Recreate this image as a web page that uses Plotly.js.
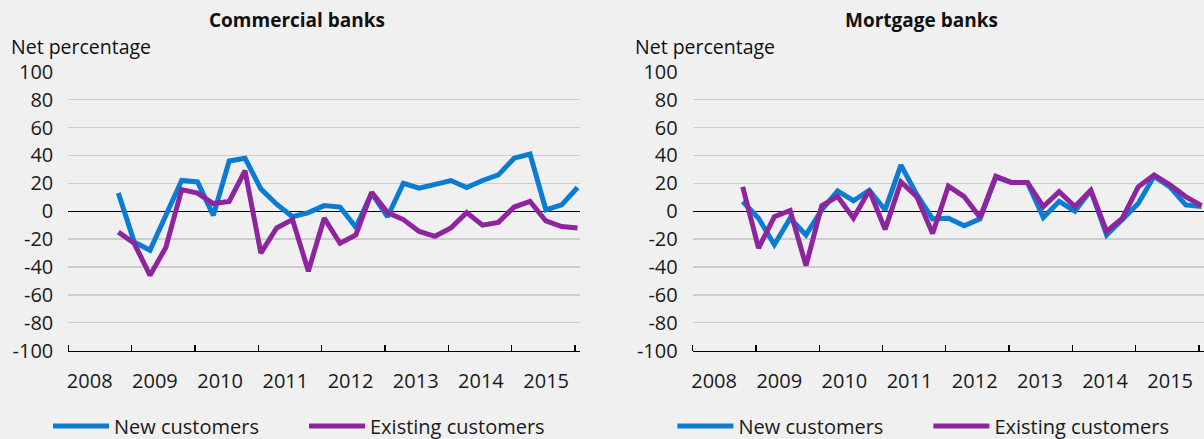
<!DOCTYPE html>
<html><head><meta charset="utf-8">
<script src="https://cdn.plot.ly/plotly-3.0.1.min.js"></script>
<style>html,body{margin:0;padding:0;background:#f0f0f0;} #chart{width:1204px;height:439px;}</style>
</head><body><div id="chart"></div>
<script>
// Quarterly survey, 2008Q4 - 2016Q1
const quarters = ["2008Q4","2009Q1","2009Q2","2009Q3","2009Q4","2010Q1","2010Q2","2010Q3","2010Q4",
  "2011Q1","2011Q2","2011Q3","2011Q4","2012Q1","2012Q2","2012Q3","2012Q4","2013Q1","2013Q2","2013Q3","2013Q4",
  "2014Q1","2014Q2","2014Q3","2014Q4","2015Q1","2015Q2","2015Q3","2015Q4","2016Q1"];
const years = ["2008","2009","2010","2011","2012","2013","2014","2015"];
const yTickValues = [-100,-80,-60,-40,-20,0,20,40,60,80,100];
const yTickLabels = ["-100","-80","-60","-40","-20","0","20","40","60","80","100"];
const commercialNew = [13,-22,-28,-2,22,21,-3,36,38,16,5,-4,-1,4,3,-11.5,13,-4,20,16.5,19,22,17,22,26,38,41,1,4.5,17];
const commercialExisting = [-15,-23,-46,-26,15.5,13,5.5,7,29,-30,-12,-6,-43,-5,-23,-17,13.5,-1,-6,-14.5,-18,-12,-1,-10,-8,3,7,-7,-11,-12];
const mortgageNew = [7,-5,-24,-5,-17,1,14.5,7.5,15,1,33,12,-5.5,-5,-10.5,-5.5,24.5,20.5,20.5,-4.5,7,0,15,-17,-6,5.5,25,17.5,4.5,3.3];
const mortgageExisting = [17.5,-26.5,-4,0.5,-39,4,10.5,-5,15,-13,21,10.5,-16,18,10.5,-4.5,25,20.5,20.5,3.3,14,3.3,15,-14.5,-5,17.5,26,19,10.5,4];
const seriesNames = ["New customers","Existing customers"];
const panelTitles = ["Commercial banks","Mortgage banks"];
const yTitle = "Net percentage";

const BLUE = "#0a7dd2", PURPLE = "#8e249e";
const FONT = "Open Sans";
const W = 1204, H = 439;

// quarter -> decimal year position (survey placed early in the quarter)
const qx = quarters.map(q => +q.slice(0,4) + (+q.slice(5)-1)/4 + 0.04);
const yearTicks = years.map(Number).concat([+years[years.length-1]+1]);
const labelPos = years.map((y,i) => +y + 0.338 + 0.0295*i);

function mk(y, name, color, xa, ya, leg) {
  return {x: qx, y: y, name: name, type: "scatter", mode: "lines",
    line: {color: color, width: 5}, xaxis: xa, yaxis: ya, legend: leg, showlegend: true,
    hoverinfo: "x+y"};
}
const traces = [
  mk(commercialNew, seriesNames[0], BLUE, "x", "y", "legend"),
  mk(commercialExisting, seriesNames[1], PURPLE, "x", "y", "legend"),
  mk(mortgageNew, seriesNames[0], BLUE, "x2", "y2", "legend2"),
  mk(mortgageExisting, seriesNames[1], PURPLE, "x2", "y2", "legend2")
];

const tickfont = {family: FONT, size: 20, color: "#1a1a1a"};
function xax(dom, anchor) {
  return {domain: dom, anchor: anchor, range: [2008, 2016.079], tickmode: "array",
    tickvals: labelPos, ticktext: years, ticks: "", showline: true, linecolor: "#000", linewidth: 1.3,
    showgrid: false, zeroline: false, tickfont: tickfont, ticklabelstandoff: 12, fixedrange: true,
    minor: {tickmode: "array", tickvals: yearTicks, ticks: "inside", ticklen: 6, tickwidth: 1.3,
            tickcolor: "#000", showgrid: false}};
}
function yax(anchor) {
  return {domain: [88.3/H, (H-71.7)/H], anchor: anchor, range: [-100,100], tickmode: "array",
    tickvals: yTickValues, ticktext: yTickLabels, ticks: "", showgrid: true, gridcolor: "#cdcdcd", gridwidth: 1.3,
    zeroline: true, zerolinecolor: "#000", zerolinewidth: 1.3, showline: false,
    tickfont: tickfont, ticklabelstandoff: 14, fixedrange: true};
}
const shift = 624.4;
function legendAt(xpx) {
  return {orientation: "h", x: xpx/W, xanchor: "left", y: 13/H, yanchor: "middle",
    font: {family: FONT, size: 20, color: "#1a1a1a"}, bgcolor: "rgba(0,0,0,0)",
    itemwidth: 56, entrywidth: 185, entrywidthmode: "pixels", traceorder: "normal"};
}
function ann(text, xpx, ypx, anchor, size) {
  return {text: text, xref: "paper", yref: "paper", x: xpx/W, y: (H-ypx)/H, xanchor: anchor,
    yanchor: "middle", showarrow: false, borderpad: 0, font: {family: FONT, size: size, color: "#111"}};
}
const layout = {
  width: W, height: H, margin: {l:0, r:0, t:0, b:0, autoexpand: false},
  paper_bgcolor: "#f0f0f0", plot_bgcolor: "#f0f0f0", showlegend: true,
  xaxis: xax([68.3/W, 580/W], "y"),
  yaxis: yax("x"),
  xaxis2: xax([(68.3+shift)/W, 1], "y2"),
  yaxis2: yax("x2"),
  legend: legendAt(48),
  legend2: legendAt(48+shift),
  annotations: [
    ann("<b>"+panelTitles[0]+"</b>", 297, 20, "center", 19),
    ann("<b>"+panelTitles[1]+"</b>", 297+shift, 20, "center", 19),
    ann(yTitle, 10, 46.5, "left", 19.5),
    ann(yTitle, 10+shift, 46.5, "left", 19.5)
  ]
};
Plotly.newPlot("chart", traces, layout, {displayModeBar: false, staticPlot: true});
</script></body></html>
